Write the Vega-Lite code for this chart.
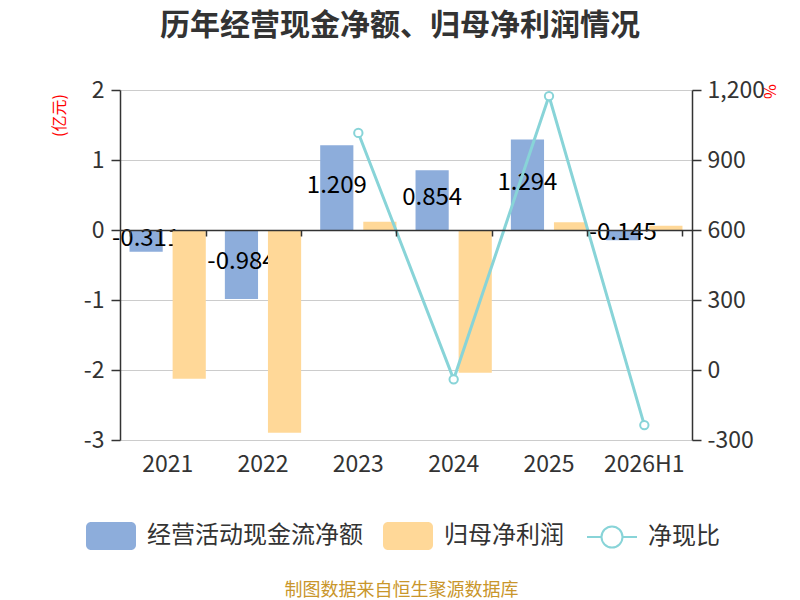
{
  "$schema": "https://vega.github.io/schema/vega-lite/v6.json",
  "width": 572,
  "height": 350,
  "autosize": {"type": "none"},
  "padding": {"left": 120, "top": 90, "right": 108, "bottom": 160},
  "background": "white",
  "config": {
    "font": "Noto Sans CJK SC",
    "view": {"stroke": null},
    "axis": {
      "labelFontSize": 23,
      "labelColor": "#333333",
      "domainColor": "#333333",
      "domainWidth": 1.5,
      "tickColor": "#333333",
      "tickWidth": 1.5
    }
  },
  "title": {
    "text": "历年经营现金净额、归母净利润情况",
    "fontSize": 30,
    "fontWeight": "bold",
    "color": "#333333",
    "anchor": "middle",
    "frame": "group",
    "offset": 38,
    "dx": -6
  },
  "datasets": {
    "bars": [
      {"year": "2021", "series": "经营活动现金流净额", "value": -0.311},
      {"year": "2021", "series": "归母净利润", "value": -2.124},
      {"year": "2022", "series": "经营活动现金流净额", "value": -0.984},
      {"year": "2022", "series": "归母净利润", "value": -2.895},
      {"year": "2023", "series": "经营活动现金流净额", "value": 1.209},
      {"year": "2023", "series": "归母净利润", "value": 0.119},
      {"year": "2024", "series": "经营活动现金流净额", "value": 0.854},
      {"year": "2024", "series": "归母净利润", "value": -2.038},
      {"year": "2025", "series": "经营活动现金流净额", "value": 1.294},
      {"year": "2025", "series": "归母净利润", "value": 0.11},
      {"year": "2026H1", "series": "经营活动现金流净额", "value": -0.145},
      {"year": "2026H1", "series": "归母净利润", "value": 0.062}
    ],
    "ratio": [
      {"year": "2023", "series": "净现比", "ratio": 1016},
      {"year": "2024", "series": "净现比", "ratio": -40},
      {"year": "2025", "series": "净现比", "ratio": 1174},
      {"year": "2026H1", "series": "净现比", "ratio": -236}
    ]
  },
  "layer": [
    {
      "data": {"name": "bars"},
      "encoding": {
        "x": {
          "field": "year",
          "type": "nominal",
          "scale": {
            "domain": ["2021", "2022", "2023", "2024", "2025", "2026H1"],
            "paddingInner": 0.2,
            "paddingOuter": 0.1
          },
          "axis": {
            "orient": "bottom",
            "domain": false,
            "ticks": false,
            "grid": false,
            "labelAngle": 0,
            "labelPadding": 13,
            "labelBaseline": "top",
            "title": "制图数据来自恒生聚源数据库",
            "titleColor": "#C9962B",
            "titleFontSize": 18,
            "titleFontWeight": "normal",
            "titleX": 281,
            "titleY": 150,
            "titleAlign": "center",
            "titleBaseline": "middle",
            "titleAngle": 0
          }
        },
        "xOffset": {
          "field": "series",
          "type": "nominal",
          "scale": {"domain": ["经营活动现金流净额", "归母净利润"], "paddingInner": 0.23}
        },
        "y": {
          "field": "value",
          "type": "quantitative",
          "scale": {"domain": [-3, 2], "nice": false},
          "axis": {
            "values": [-3, -2, -1, 0, 1, 2],
            "labelExpr": "replace(datum.label, '−', '-')",
            "grid": true,
            "gridColor": "#cccccc",
            "gridWidth": 1,
            "tickSize": 9,
            "labelPadding": 7,
            "title": "(亿元)",
            "titleColor": "#ff0000",
            "titleFontSize": 16,
            "titleFontWeight": "normal",
            "titleAngle": -90,
            "titleX": -61,
            "titleY": 25,
            "titleAlign": "center",
            "titleBaseline": "middle"
          }
        }
      },
      "layer": [
        {
          "transform": [{"filter": "datum.series === '经营活动现金流净额'"}],
          "mark": {"type": "bar"},
          "encoding": {
            "fill": {
              "field": "series",
              "type": "nominal",
              "scale": {"domain": ["经营活动现金流净额", "归母净利润"], "range": ["#8DADDB", "#FFD898"]},
              "legend": {
                "orient": "none",
                "legendX": -34,
                "legendY": 421,
                "direction": "horizontal",
                "title": null,
                "padding": 0,
                "symbolType": "M-0.8,-0.56H0.8A0.2,0.2 0 0 1 1,-0.36V0.36A0.2,0.2 0 0 1 0.8,0.56H-0.8A0.2,0.2 0 0 1 -1,0.36V-0.36A0.2,0.2 0 0 1 -0.8,-0.56Z",
                "symbolSize": 2500,
                "symbolStrokeWidth": 0,
                "symbolOpacity": 1,
                "labelFontSize": 24,
                "labelLimit": 400,
                "labelColor": "#333333",
                "labelOffset": 11,
                "columnPadding": 20
              }
            }
          }
        },
        {
          "transform": [
            {"filter": "datum.series === '经营活动现金流净额'"},
            {"calculate": "datum.value / 2", "as": "mid"}
          ],
          "mark": {"type": "text", "fontSize": 24, "fill": "#000000", "align": "center", "baseline": "middle", "dy": -2},
          "encoding": {
            "y": {"field": "mid", "type": "quantitative"},
            "text": {"field": "value", "type": "nominal"}
          }
        },
        {
          "transform": [{"filter": "datum.series === '归母净利润'"}],
          "mark": {"type": "bar"},
          "encoding": {
            "fill": {"field": "series", "type": "nominal"}
          }
        }
      ]
    },
    {
      "data": {"name": "ratio"},
      "encoding": {
        "x": {
          "field": "year",
          "type": "nominal",
          "axis": {
            "orient": "bottom",
            "offset": -210,
            "domain": true,
            "ticks": true,
            "tickBand": "extent",
            "tickSize": 6,
            "labels": false,
            "grid": false,
            "title": null,
            "zindex": 1
          }
        },
        "y": {
          "field": "ratio",
          "type": "quantitative",
          "scale": {"domain": [-300, 1200], "nice": false},
          "axis": {
            "orient": "right",
            "values": [-300, 0, 300, 600, 900, 1200],
            "format": ",.0f",
            "labelExpr": "replace(datum.label, '−', '-')",
            "grid": false,
            "tickSize": 9,
            "labelPadding": 6,
            "title": "%",
            "titleColor": "#ff0000",
            "titleFontSize": 16,
            "titleFontWeight": "normal",
            "titleAngle": 90,
            "titleX": 76,
            "titleY": 1,
            "titleAlign": "center",
            "titleBaseline": "middle"
          }
        }
      },
      "layer": [
        {
          "mark": {"type": "line", "strokeWidth": 3},
          "encoding": {
            "stroke": {
              "field": "series",
              "type": "nominal",
              "scale": {"domain": ["净现比"], "range": ["#88D4D8"]},
              "legend": {
                "orient": "none",
                "legendX": 466,
                "legendY": 421,
                "direction": "horizontal",
                "title": null,
                "padding": 0,
                "symbolType": "M-1,0H-0.42M0.42,0H1M-0.42,0A0.42,0.42 0 1 1 0.42,0A0.42,0.42 0 1 1 -0.42,0Z",
                "symbolSize": 2500,
                "symbolStrokeWidth": 2,
                "symbolFillColor": "#ffffff",
                "labelFontSize": 24,
                "labelLimit": 400,
                "labelColor": "#333333",
                "labelOffset": 10
              }
            }
          }
        },
        {
          "mark": {"type": "point", "shape": "circle", "size": 70, "filled": false, "fill": "#ffffff", "stroke": "#88D4D8", "strokeWidth": 2, "opacity": 1}
        }
      ]
    }
  ],
  "resolve": {"scale": {"y": "independent"}, "axis": {"x": "independent"}}
}
